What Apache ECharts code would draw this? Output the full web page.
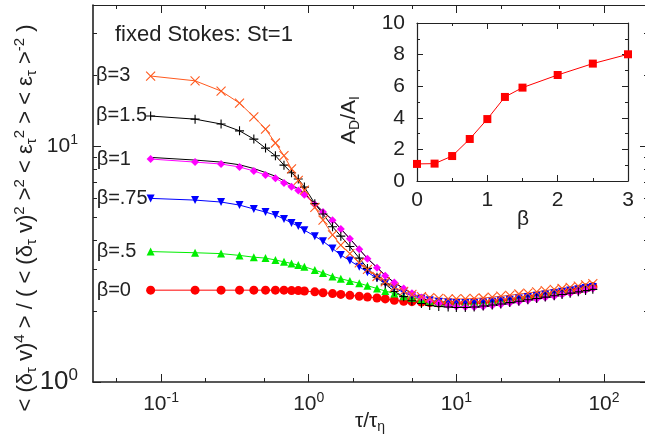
<!DOCTYPE html>
<html>
<head>
<meta charset="utf-8">
<script src="https://cdn.jsdelivr.net/npm/echarts@6/dist/echarts.min.js"></script>
<style>
  html, body { margin: 0; padding: 0; background: #fff; }
  #main { width: 645px; height: 440px; }
</style>
</head>
<body>
<div id="main"></div>
<script>
// time lags tau/tau_eta shared by all curves
const tau = [0.085, 0.17, 0.255, 0.34, 0.425, 0.51, 0.595, 0.68, 0.765, 0.85, 0.935,
  1.1, 1.25, 1.45, 1.65, 1.9, 2.2, 2.5, 2.9, 3.3, 3.8,
  4.4, 5.0, 5.8, 6.6, 7.6, 8.8, 10, 11.5, 13.2, 15.2,
  17.5, 20, 23, 26.5, 30.5, 35, 40, 46, 52, 59,
  67, 75, 84];

// flatness curves, one per beta
const beta0 = [2.45, 2.45, 2.45, 2.45, 2.45, 2.45, 2.45, 2.45, 2.44, 2.44, 2.43,
  2.41, 2.39, 2.37, 2.35, 2.33, 2.31, 2.29, 2.27, 2.25, 2.22,
  2.20, 2.19, 2.18, 2.17, 2.16, 2.16, 2.16, 2.16, 2.17, 2.18,
  2.19, 2.21, 2.23, 2.25, 2.28, 2.31, 2.34, 2.37, 2.40, 2.43,
  2.46, 2.50, 2.54];
const beta05 = [3.57, 3.53, 3.50, 3.44, 3.38, 3.35, 3.29, 3.23, 3.18, 3.13, 3.08,
  2.98, 2.90, 2.80, 2.74, 2.68, 2.62, 2.56, 2.49, 2.43, 2.37,
  2.31, 2.27, 2.24, 2.21, 2.19, 2.18, 2.17, 2.17, 2.18, 2.19,
  2.21, 2.23, 2.25, 2.28, 2.31, 2.34, 2.37, 2.40, 2.43, 2.46,
  2.49, 2.52, 2.55];
const beta075 = [6.0, 5.90, 5.79, 5.62, 5.41, 5.25, 5.10, 4.91, 4.72, 4.58, 4.40,
  4.15, 3.95, 3.68, 3.45, 3.27, 3.08, 2.92, 2.75, 2.62, 2.50,
  2.40, 2.32, 2.26, 2.22, 2.19, 2.17, 2.16, 2.16, 2.16, 2.17,
  2.19, 2.21, 2.23, 2.26, 2.29, 2.32, 2.35, 2.38, 2.41, 2.44,
  2.47, 2.50, 2.53];
const beta1 = [8.81, 8.55, 8.39, 8.15, 7.84, 7.54, 7.30, 6.97, 6.72, 6.48, 6.22,
  5.65, 5.25, 4.85, 4.45, 4.05, 3.65, 3.33, 3.05, 2.82, 2.64,
  2.49, 2.38, 2.28, 2.21, 2.15, 2.11, 2.09, 2.08, 2.08, 2.09,
  2.11, 2.13, 2.16, 2.19, 2.22, 2.25, 2.28, 2.31, 2.35, 2.38,
  2.42, 2.45, 2.49];
const beta15 = [13.4, 13.0, 12.4, 11.6, 10.7, 9.8, 9.1, 8.3, 7.7, 7.25, 6.7,
  5.7, 5.15, 4.55, 4.15, 3.75, 3.35, 3.03, 2.78, 2.60, 2.42,
  2.30, 2.21, 2.15, 2.11, 2.09, 2.08, 2.07, 2.07, 2.08, 2.10,
  2.12, 2.14, 2.17, 2.20, 2.23, 2.26, 2.29, 2.32, 2.35, 2.38,
  2.41, 2.44, 2.47];
const beta3 = [19.8, 18.9, 17.1, 15.2, 13.3, 11.8, 10.3, 9.1, 8.0, 7.15, 6.5,
  5.5, 4.85, 4.2, 3.8, 3.5, 3.2, 3.0, 2.8, 2.66, 2.52,
  2.42, 2.35, 2.30, 2.28, 2.26, 2.25, 2.25, 2.25, 2.26, 2.27,
  2.29, 2.31, 2.33, 2.36, 2.38, 2.41, 2.44, 2.47, 2.49, 2.52,
  2.55, 2.58, 2.61];
// thin black line lying just over the beta=1 data
const modelB1 = [8.95, 8.72, 8.55, 8.33, 8.03, 7.72, 7.45, 7.12, 6.85, 6.58, 6.3,
  5.7, 5.28, 4.87, 4.46, 4.05, 3.65, 3.34, 3.06, 2.83, 2.64,
  2.49, 2.37, 2.27, 2.2, 2.14, 2.1, 2.08, 2.07, 2.07, 2.08,
  2.1, 2.12, 2.15, 2.18, 2.21, 2.24, 2.27, 2.3, 2.33, 2.36,
  2.39, 2.42, 2.45];

// inset: A_D/A_I against beta
const insetBeta = [0, 0.25, 0.5, 0.75, 1, 1.25, 1.5, 2, 2.5, 3];
const insetRatio = [1.08, 1.10, 1.58, 2.66, 3.92, 5.32, 5.91, 6.71, 7.43, 8.02];

// tick values
const xMajor = [0.1, 1, 10, 100];
const xMinor = [0.05, 0.2, 0.5, 2, 5, 20, 50];
const yMajor = [1, 10];
const yMinor = [2, 3, 4, 5, 6, 7, 8, 9, 20, 30];
const insetXMajor = [0, 1, 2, 3];
const insetXMinor = [0.5, 1.5, 2.5];
const insetYMajor = [0, 2, 4, 6, 8, 10];
const insetYMinor = [1, 3, 5, 7, 9];

const FONT = '"Liberation Sans", Arial, Helvetica, sans-serif';
const INK = '#222';

const chart = echarts.init(document.getElementById('main'));

const expRich = {
  m: { fontSize: 21, fontFamily: FONT, color: INK },
  e: { fontSize: 14, fontFamily: FONT, color: INK, padding: [0, 0, 12, 0] },
  M: { fontSize: 26, fontFamily: FONT, color: INK },
  E: { fontSize: 17, fontFamily: FONT, color: INK, padding: [0, 0, 14, 0] }
};
function expLabel(v) {
  return '{m|10}{e|' + Math.round(Math.log10(v)) + '}';
}
// the 10^0 at the bottom of the y axis is printed larger
function expLabelY(v) {
  const e = Math.round(Math.log10(v));
  return e === 0 ? '{M|10}{E|0}' : '{m|10}{e|' + e + '}';
}

// one axis that only draws ticks (and maybe line / labels)
function tickAxis(o) {
  return {
    gridIndex: o.grid,
    type: o.type,
    position: o.pos,
    min: o.min,
    max: o.max,
    logBase: 10,
    axisLine: { show: !!o.line, onZero: false, lineStyle: { color: INK, width: o.lw || 1.2 } },
    axisTick: { show: true, inside: true, length: o.len, customValues: o.ticks,
      lineStyle: { color: INK, width: 1 } },
    axisLabel: o.label ? Object.assign({ show: true, customValues: o.ticks }, o.label) : { show: false },
    splitLine: { show: false },
    axisPointer: { show: false }
  };
}

const mainX = { grid: 0, type: 'log', min: 0.0346, max: 198.6 };
const mainY = { grid: 0, type: 'log', min: 1, max: 39.6 };
const insX = { grid: 1, type: 'value', min: 0, max: 3 };
const insY = { grid: 1, type: 'value', min: 0, max: 10 };

const xAxes = [
  tickAxis(Object.assign({}, mainX, { pos: 'bottom', ticks: xMajor, len: 8, line: true, lw: 1.6,
    label: { margin: 9, formatter: expLabel, rich: expRich } })),
  tickAxis(Object.assign({}, mainX, { pos: 'bottom', ticks: xMinor, len: 4 })),
  tickAxis(Object.assign({}, mainX, { pos: 'top', ticks: xMajor, len: 8, line: true })),
  tickAxis(Object.assign({}, mainX, { pos: 'top', ticks: xMinor, len: 4 })),
  tickAxis(Object.assign({}, insX, { pos: 'bottom', ticks: insetXMajor, len: 6, line: true,
    label: { margin: 9, fontSize: 21, fontFamily: FONT, color: INK } })),
  tickAxis(Object.assign({}, insX, { pos: 'bottom', ticks: insetXMinor, len: 3 })),
  tickAxis(Object.assign({}, insX, { pos: 'top', ticks: insetXMajor, len: 6, line: true })),
  tickAxis(Object.assign({}, insX, { pos: 'top', ticks: insetXMinor, len: 3 }))
];
const yAxes = [
  tickAxis(Object.assign({}, mainY, { pos: 'left', ticks: yMajor, len: 8, line: true, lw: 1.6,
    label: { margin: 15, formatter: expLabelY, rich: expRich } })),
  tickAxis(Object.assign({}, mainY, { pos: 'left', ticks: yMinor, len: 4 })),
  tickAxis(Object.assign({}, mainY, { pos: 'right', ticks: yMajor, len: 8, line: true })),
  tickAxis(Object.assign({}, mainY, { pos: 'right', ticks: yMinor, len: 4 })),
  tickAxis(Object.assign({}, insY, { pos: 'left', ticks: insetYMajor, len: 6, line: true,
    label: { margin: 12, fontSize: 21, fontFamily: FONT, color: INK } })),
  tickAxis(Object.assign({}, insY, { pos: 'left', ticks: insetYMinor, len: 3 })),
  tickAxis(Object.assign({}, insY, { pos: 'right', ticks: insetYMajor, len: 6, line: true })),
  tickAxis(Object.assign({}, insY, { pos: 'right', ticks: insetYMinor, len: 3 }))
];

const CROSS = 'path://M0,0L10,10M10,0L0,10';
const PLUS = 'path://M5,0L5,10M0,5L10,5';
const DOWN = 'path://M0,0L10,0L5,9Z';
const LABEL_DX = -54;

function mainSeries(name, vals, color, symbol, size, stroke) {
  const data = tau.map((t, i) => [t, vals[i]]);
  if (name) {
    data[0] = {
      value: data[0],
      label: { show: true, formatter: name, position: [LABEL_DX + size / 2, size / 2],
        align: 'left', verticalAlign: 'middle', fontSize: 20, fontFamily: FONT, color: INK }
    };
  }
  return {
    type: 'line', name: name, xAxisIndex: 0, yAxisIndex: 0,
    data: data,
    symbol: symbol, symbolSize: size, showSymbol: symbol !== 'none', showAllSymbol: true,
    lineStyle: { color: color, width: 1 },
    itemStyle: { color: color, borderColor: color, borderWidth: stroke ? 1.1 : 0 },
    emphasis: { disabled: true },
    z: 3
  };
}

chart.setOption({
  animation: false,
  backgroundColor: '#fff',
  textStyle: { fontFamily: FONT },
  grid: [
    { left: 93, top: 5, right: -3, bottom: 58, outerBoundsMode: 'none' },
    { left: 417, top: 23, right: 17, bottom: 259, outerBoundsMode: 'none' }
  ],
  xAxis: xAxes,
  yAxis: yAxes,
  series: [
    mainSeries('β=0', beta0, '#ff0000', 'circle', 9, false),
    mainSeries('β=.5', beta05, '#00ee00', 'triangle', 8, false),
    mainSeries('β=.75', beta075, '#0000ff', DOWN, 8, false),
    mainSeries('β=1', beta1, '#ff00ff', 'diamond', 8, false),
    mainSeries('', modelB1, '#000000', 'none', 0, false),
    mainSeries('β=1.5', beta15, '#000000', PLUS, 9, true),
    mainSeries('β=3', beta3, '#ff5a1f', CROSS, 9, true),
    {
      type: 'line', xAxisIndex: 4, yAxisIndex: 4,
      data: insetBeta.map((b, i) => [b, insetRatio[i]]),
      symbol: 'rect', symbolSize: 8,
      lineStyle: { color: '#ff0000', width: 1 },
      itemStyle: { color: '#ff0000' },
      emphasis: { disabled: true }
    }
  ],
  graphic: [
    { type: 'text', x: 115, y: 35,
      style: { text: 'fixed Stokes: St=1', fontSize: 22, fontFamily: FONT, fill: INK,
        align: 'left', verticalAlign: 'middle' } },
    { type: 'text', x: 370, y: 421,
      style: { text: '{m|τ/τ}{s|η}', align: 'center', verticalAlign: 'middle',
        rich: { m: { fontSize: 21, fontFamily: FONT, fill: INK },
                s: { fontSize: 14, fontFamily: FONT, fill: INK, padding: [12, 0, 0, 0] } } } },
    { type: 'text', x: 523, y: 219,
      style: { text: 'β', fontSize: 21, fontFamily: FONT, fill: INK, align: 'center', verticalAlign: 'middle' } },
    { type: 'text', x: 349, y: 120, rotation: Math.PI / 2,
      style: { text: '{m|A}{s|D}{m|/A}{s|I}', align: 'center', verticalAlign: 'middle',
        rich: { m: { fontSize: 21, fontFamily: FONT, fill: INK },
                s: { fontSize: 14, fontFamily: FONT, fill: INK, padding: [12, 0, 0, 0] } } } },
    { type: 'text', x: 26, y: 218, rotation: Math.PI / 2,
      style: {
        text: '{m|< (δ}{s|τ}{m| v)}{p|4}{m| > / ( < (δ}{s|τ}{m| v)}{p|2}{m| >}{p|2}{m| < ε}{s|τ}{p|2}{m| > < ε}{s|τ}{m| >}{p|-2}{m| )}',
        align: 'center', verticalAlign: 'middle',
        rich: { m: { fontSize: 22, fontFamily: FONT, fill: INK },
                s: { fontSize: 15, fontFamily: FONT, fill: INK, padding: [11, 0, 0, 0] },
                p: { fontSize: 15, fontFamily: FONT, fill: INK, padding: [0, 0, 13, 0] } }
      } }
  ]
});
</script>
</body>
</html>
